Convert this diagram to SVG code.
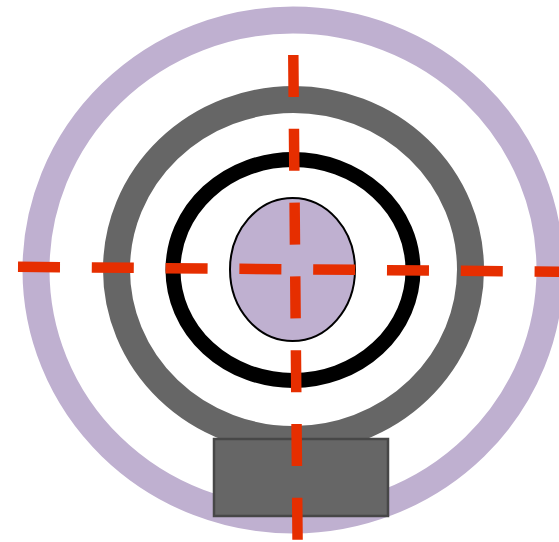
<svg xmlns="http://www.w3.org/2000/svg" width="559" height="542" viewBox="0 0 559 542">
<style>
.ring{fill:none}
.cross{stroke:#e62e00;stroke-width:10.5;stroke-dasharray:42 31.8;fill:none;stroke-linecap:butt}
</style>
<rect width="559" height="542" fill="#ffffff"/>
<g id="outer-ring"><ellipse class="ring" cx="293" cy="270" rx="257" ry="250" stroke="#bfb0d0" stroke-width="27"/></g>
<g id="middle-ring"><ellipse class="ring" cx="293.5" cy="269.5" rx="177" ry="170" stroke="#666666" stroke-width="27"/></g>
<g id="base"><rect x="214" y="439" width="174" height="77" fill="#666666" stroke="#474747" stroke-width="2.5"/></g>
<g id="inner-ring"><ellipse class="ring" cx="293" cy="270" rx="120" ry="110.5" stroke="#000000" stroke-width="15"/></g>
<g id="core"><ellipse cx="292.5" cy="269.5" rx="62.5" ry="71.5" fill="#bfb0d0" stroke="#000000" stroke-width="2"/></g>
<g id="connectors">
<line class="cross" x1="18" y1="266.8" x2="580" y2="271.9"/>
<line class="cross" x1="293.3" y1="55" x2="297.6" y2="545"/>
</g>
</svg>
